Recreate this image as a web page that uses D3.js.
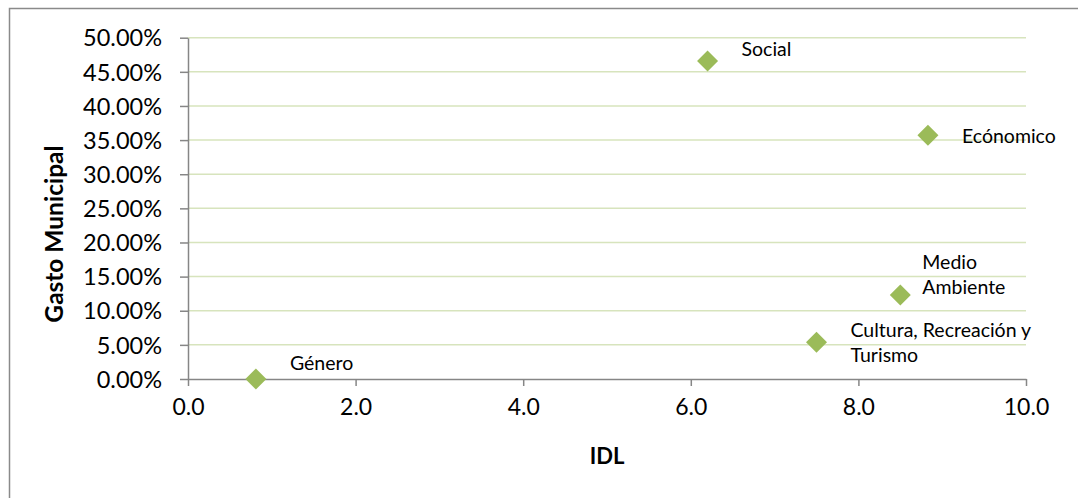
<!DOCTYPE html>
<html>
<head>
<meta charset="utf-8">
<script src="https://cdn.jsdelivr.net/npm/d3@7"></script>
<style>
  html, body { margin: 0; padding: 0; background: #fff; }
  svg { display: block; font-family: Lato, "Open Sans", sans-serif; }
</style>
</head>
<body>
<svg id="chart" width="1078" height="498"></svg>
<script>
// Sectores de gasto municipal frente al IDL
const sectors = ["Social", "Ecónomico", "Medio Ambiente", "Cultura, Recreación y Turismo", "Género"];
const idl = [6.2, 8.83, 8.5, 7.5, 0.81];
const gasto = [0.466, 0.357, 0.123, 0.054, 0.0];
const labelLines = [["Social"], ["Ecónomico"], ["Medio", "Ambiente"], ["Cultura, Recreación y", "Turismo"], ["Género"]];
const xTicks = [0, 2, 4, 6, 8, 10];
const yTicks = [0, 0.05, 0.1, 0.15, 0.2, 0.25, 0.3, 0.35, 0.4, 0.45, 0.5];

const svg = d3.select("#chart");

// Chart frame (only top/left edges fall inside the view)
svg.append("rect")
  .attr("x", 9.5).attr("y", 8.5)
  .attr("width", 1200).attr("height", 600)
  .attr("fill", "none").attr("stroke", "#8a8a8a").attr("stroke-width", 1.5);

const plotLeft = 188, plotRight = 1026, plotTop = 37.7, plotBottom = 379;
const x = d3.scaleLinear().domain([0, 10]).range([plotLeft, plotRight]);
const y = d3.scaleLinear().domain([0, 0.5]).range([plotBottom, plotTop]);

// Horizontal gridlines
svg.append("g")
  .selectAll("line")
  .data(yTicks.filter(d => d > 0))
  .join("line")
  .attr("x1", plotLeft).attr("x2", plotRight)
  .attr("y1", d => y(d)).attr("y2", d => y(d))
  .attr("stroke", "#d7e4bd").attr("stroke-width", 1.5);

// Y axis
const yAxis = svg.append("g")
  .attr("transform", `translate(${plotLeft},0)`)
  .call(d3.axisLeft(y).tickValues(yTicks).tickFormat(d => (d * 100).toFixed(2) + "%").tickSize(8).tickSizeOuter(0).tickPadding(18));
yAxis.select(".domain").attr("stroke", "#868686").attr("stroke-width", 1.5);
yAxis.selectAll(".tick line").attr("stroke", "#868686").attr("stroke-width", 1.5);
yAxis.selectAll(".tick text").attr("fill", "#000").attr("font-size", 23.5).attr("font-family", "Lato, sans-serif").attr("dy", "0.35em");

// X axis
const xAxis = svg.append("g")
  .attr("transform", `translate(0,${plotBottom})`)
  .call(d3.axisBottom(x).tickValues(xTicks).tickFormat(d3.format(".1f")).tickSize(7).tickSizeOuter(0).tickPadding(13));
xAxis.select(".domain").attr("stroke", "#868686").attr("stroke-width", 1.5);
xAxis.selectAll(".tick line").attr("stroke", "#868686").attr("stroke-width", 1.5);
xAxis.selectAll(".tick text").attr("fill", "#000").attr("font-size", 23).attr("font-family", "Lato, sans-serif");

// Axis titles
svg.append("text")
  .attr("transform", `translate(63,234) rotate(-90)`)
  .attr("text-anchor", "middle")
  .attr("font-weight", "bold").attr("font-size", 24.5)
  .text("Gasto Municipal");
svg.append("text")
  .attr("x", 607).attr("y", 464)
  .attr("text-anchor", "middle")
  .attr("font-weight", "bold").attr("font-size", 22)
  .text("IDL");

// Diamond markers
const pts = sectors.map((s, i) => ({ s, x: idl[i], y: gasto[i], lines: labelLines[i] }));
svg.append("g")
  .selectAll("path")
  .data(pts)
  .join("path")
  .attr("d", d3.symbol(d3.symbolSquare, 220))
  .attr("transform", d => `translate(${x(d.x)},${y(d.y)}) rotate(45)`)
  .attr("fill", "#9bbb59");

// Data labels
const labelOffsets = [
  { dx: 34, dy: -5 },
  { dx: 34, dy: 8 },
  { dx: 22, dy: -26 },
  { dx: 34, dy: -5 },
  { dx: 34, dy: -9 }
];
const lbl = svg.append("g").selectAll("text")
  .data(pts)
  .join("text")
  .attr("font-size", 19.5)
  .attr("fill", "#000")
  .attr("x", (d, i) => x(d.x) + labelOffsets[i].dx)
  .attr("y", (d, i) => y(d.y) + labelOffsets[i].dy);
lbl.selectAll("tspan")
  .data((d, i) => d.lines.map(t => ({ t, x: x(d.x) + labelOffsets[i].dx })))
  .join("tspan")
  .attr("x", d => d.x)
  .attr("dy", (d, j) => j === 0 ? 0 : 25)
  .text(d => d.t);
</script>
</body>
</html>
